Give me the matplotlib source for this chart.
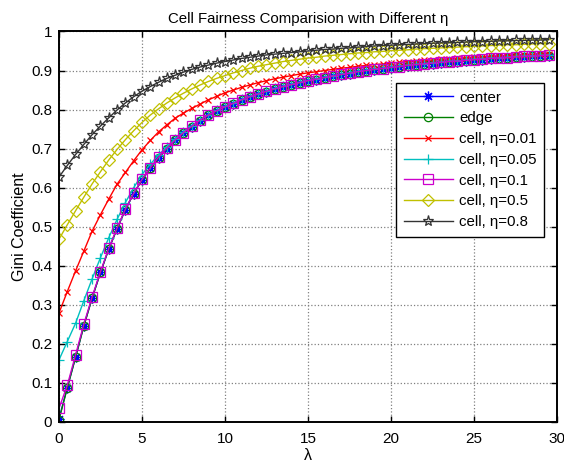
import numpy as np
import matplotlib
matplotlib.use("Agg")
import matplotlib.pyplot as plt
from matplotlib.ticker import FormatStrFormatter

# lambda values, step 0.5
lam = np.arange(0, 30, 0.5)

center = [0.008, 0.088, 0.166, 0.247, 0.318, 0.383, 0.443, 0.495, 0.544, 0.585,
          0.620, 0.650, 0.677, 0.700, 0.721, 0.740, 0.756, 0.772, 0.785, 0.796,
          0.806, 0.815, 0.824, 0.832, 0.839, 0.846, 0.852, 0.858, 0.863, 0.868,
          0.873, 0.877, 0.881, 0.885, 0.889, 0.892, 0.896, 0.899, 0.902, 0.904,
          0.907, 0.909, 0.912, 0.914, 0.916, 0.918, 0.920, 0.922, 0.923, 0.925,
          0.927, 0.928, 0.930, 0.931, 0.932, 0.934, 0.935, 0.936, 0.937, 0.938]

edge = [0.006, 0.087, 0.166, 0.246, 0.318, 0.383, 0.443, 0.495, 0.544, 0.585,
        0.620, 0.650, 0.677, 0.700, 0.721, 0.740, 0.756, 0.772, 0.785, 0.796,
        0.806, 0.815, 0.824, 0.832, 0.839, 0.846, 0.852, 0.858, 0.863, 0.868,
        0.873, 0.877, 0.881, 0.885, 0.889, 0.892, 0.896, 0.899, 0.902, 0.904,
        0.907, 0.909, 0.912, 0.914, 0.916, 0.918, 0.920, 0.922, 0.923, 0.925,
        0.927, 0.928, 0.930, 0.931, 0.932, 0.934, 0.935, 0.936, 0.937, 0.938]

eta001 = [0.279, 0.334, 0.387, 0.438, 0.489, 0.531, 0.571, 0.609, 0.639, 0.669,
          0.697, 0.721, 0.743, 0.761, 0.778, 0.791, 0.803, 0.814, 0.825, 0.834,
          0.843, 0.850, 0.857, 0.863, 0.869, 0.874, 0.879, 0.883, 0.887, 0.891,
          0.894, 0.897, 0.900, 0.903, 0.906, 0.908, 0.911, 0.913, 0.915, 0.917,
          0.919, 0.921, 0.923, 0.924, 0.926, 0.927, 0.929, 0.930, 0.931, 0.933,
          0.934, 0.935, 0.936, 0.937, 0.938, 0.939, 0.940, 0.941, 0.942, 0.943]

eta005 = [0.159, 0.206, 0.253, 0.311, 0.367, 0.421, 0.472, 0.519, 0.562, 0.600,
          0.634, 0.660, 0.684, 0.705, 0.725, 0.743, 0.759, 0.774, 0.787, 0.798,
          0.808, 0.817, 0.826, 0.834, 0.841, 0.848, 0.854, 0.860, 0.865, 0.870,
          0.875, 0.879, 0.883, 0.887, 0.891, 0.894, 0.898, 0.901, 0.904, 0.906,
          0.909, 0.911, 0.914, 0.916, 0.918, 0.920, 0.922, 0.924, 0.925, 0.927,
          0.929, 0.930, 0.932, 0.933, 0.934, 0.936, 0.937, 0.938, 0.939, 0.940]

eta01 = [0.035, 0.094, 0.172, 0.251, 0.321, 0.385, 0.445, 0.497, 0.545, 0.586,
         0.621, 0.651, 0.678, 0.701, 0.722, 0.741, 0.757, 0.773, 0.786, 0.797,
         0.807, 0.816, 0.825, 0.833, 0.840, 0.847, 0.853, 0.859, 0.864, 0.869,
         0.874, 0.878, 0.882, 0.886, 0.890, 0.893, 0.897, 0.900, 0.903, 0.905,
         0.908, 0.910, 0.913, 0.915, 0.917, 0.919, 0.921, 0.923, 0.924, 0.926,
         0.928, 0.929, 0.931, 0.932, 0.933, 0.935, 0.936, 0.937, 0.938, 0.939]

eta05 = [0.468, 0.505, 0.541, 0.576, 0.610, 0.641, 0.671, 0.698, 0.723, 0.746,
         0.767, 0.786, 0.802, 0.817, 0.830, 0.842, 0.853, 0.863, 0.872, 0.880,
         0.887, 0.894, 0.900, 0.906, 0.911, 0.915, 0.919, 0.923, 0.926, 0.929,
         0.932, 0.934, 0.937, 0.939, 0.941, 0.943, 0.945, 0.946, 0.948, 0.949,
         0.951, 0.952, 0.953, 0.955, 0.956, 0.957, 0.958, 0.959, 0.960, 0.961,
         0.962, 0.963, 0.964, 0.965, 0.966, 0.966, 0.967, 0.968, 0.969, 0.969]

eta08 = [0.627, 0.657, 0.685, 0.711, 0.736, 0.758, 0.779, 0.799, 0.817, 0.833,
         0.847, 0.859, 0.870, 0.880, 0.888, 0.896, 0.903, 0.909, 0.914, 0.919,
         0.923, 0.927, 0.931, 0.934, 0.937, 0.940, 0.942, 0.944, 0.946, 0.948,
         0.950, 0.952, 0.954, 0.955, 0.957, 0.958, 0.960, 0.961, 0.963, 0.964,
         0.965, 0.966, 0.967, 0.968, 0.969, 0.970, 0.971, 0.971, 0.972, 0.973,
         0.974, 0.974, 0.975, 0.976, 0.976, 0.977, 0.977, 0.978, 0.978, 0.979]

labels = ['center', 'edge', 'cell, η=0.01', 'cell, η=0.05',
          'cell, η=0.1', 'cell, η=0.5', 'cell, η=0.8']

plt.rcParams['font.family'] = ['Liberation Sans', 'DejaVu Sans']
plt.rcParams['font.size'] = 11

fig = plt.figure(figsize=(5.64, 4.63), dpi=100)
ax = fig.add_axes([0.1046, 0.0886, 0.883, 0.8434])

# (values, color, marker, markersize)
series = [
    (center, '#0000ff', (8, 2, 0), 7),
    (edge, '#008000', 'o', 6),
    (eta001, '#ff0000', 'x', 4.5),
    (eta005, '#00bfbf', '+', 7),
    (eta01, '#cc00cc', 's', 6.5),
    (eta05, '#c0c000', 'D', 6.5),
    (eta08, '#333333', '*', 8),
]
for (vals, col, mk, ms), lab in zip(series, labels):
    ax.plot(lam, vals, color=col, marker=mk, markersize=ms, markerfacecolor='none',
            markeredgecolor=col, markeredgewidth=0.9, linewidth=1.0, label=lab)

ax.set_xlim(0, 30)
ax.set_ylim(0, 1)
ax.set_xticks(np.arange(0, 31, 5))
ax.set_yticks(np.arange(0, 1.01, 0.1))
ax.yaxis.set_major_formatter(FormatStrFormatter('%g'))
ax.grid(True, linestyle=':', color='#808080', linewidth=0.9)
ax.tick_params(direction='in', top=True, right=True, length=4, width=1, labelsize=11)
ax.tick_params(axis='x', pad=7)
ax.tick_params(axis='y', pad=5)
for s in ax.spines.values():
    s.set_linewidth(1.4)

ax.set_title('Cell Fairness Comparision with Different η', fontsize=10.8, pad=6)
ax.set_xlabel('λ', fontsize=11.5, labelpad=2)
ax.set_ylabel('Gini Coefficient', fontsize=11.5, labelpad=3)

leg = ax.legend(loc='upper right', bbox_to_anchor=(0.974, 0.868), borderaxespad=0,
                fancybox=False, framealpha=1, edgecolor='black', fontsize=10.8,
                handlelength=3.3, handletextpad=0.4, labelspacing=0.45, borderpad=0.5)
leg.get_frame().set_linewidth(1.0)

fig.savefig('out.png', dpi=100)
